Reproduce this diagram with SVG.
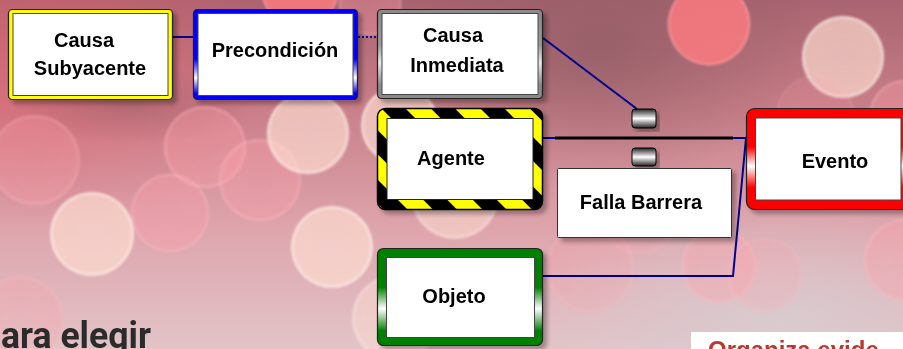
<svg xmlns="http://www.w3.org/2000/svg" width="903" height="349" viewBox="0 0 903 349">
<style>
.t{font-family:"Liberation Sans",Arial,sans-serif;font-weight:bold;font-size:20px;fill:#000;text-anchor:middle}
.in{fill:#fff;stroke:#444;stroke-width:1}
.out{stroke:#222;stroke-width:1.2}
.pk{fill:url(#bkPink)}
.pc{fill:url(#bkPeach)}
.rd{fill:url(#bkRed)}
.cn{fill:none;stroke:#000090;stroke-width:2}
</style>
<defs>
<linearGradient id="bg" x1="0" y1="0" x2="0" y2="1">
<stop offset="0" stop-color="#a86470"/>
<stop offset="0.3" stop-color="#c87e88"/>
<stop offset="0.65" stop-color="#dea4ac"/>
<stop offset="1" stop-color="#e2c4c8"/>
</linearGradient>
<radialGradient id="leftRed" cx="0.5" cy="0.5" r="0.5">
<stop offset="0" stop-color="#e4606e" stop-opacity="0.6"/>
<stop offset="1" stop-color="#e4606e" stop-opacity="0"/>
</radialGradient>
<radialGradient id="mauve" cx="0.5" cy="0.5" r="0.5">
<stop offset="0" stop-color="#8c5a62" stop-opacity="0.7"/>
<stop offset="1" stop-color="#8c5a62" stop-opacity="0"/>
</radialGradient>
<radialGradient id="greyish" cx="0.5" cy="0.5" r="0.5">
<stop offset="0" stop-color="#d8ccd0" stop-opacity="0.9"/>
<stop offset="1" stop-color="#d8ccd0" stop-opacity="0"/>
</radialGradient>
<radialGradient id="bkPink" cx="0.5" cy="0.5" r="0.5">
<stop offset="0" stop-color="#ffa0aa" stop-opacity="0.3"/>
<stop offset="0.88" stop-color="#ffa0aa" stop-opacity="0.35"/>
<stop offset="0.96" stop-color="#ffb8c0" stop-opacity="0.5"/>
<stop offset="1" stop-color="#ffb8c0" stop-opacity="0"/>
</radialGradient>
<radialGradient id="bkPeach" cx="0.5" cy="0.5" r="0.5">
<stop offset="0" stop-color="#ffe4d8" stop-opacity="0.62"/>
<stop offset="0.88" stop-color="#ffe0d2" stop-opacity="0.66"/>
<stop offset="0.95" stop-color="#fff0e8" stop-opacity="0.8"/>
<stop offset="1" stop-color="#fff0e8" stop-opacity="0"/>
</radialGradient>
<radialGradient id="bkRed" cx="0.5" cy="0.5" r="0.5">
<stop offset="0" stop-color="#ff7c80" stop-opacity="0.8"/>
<stop offset="0.9" stop-color="#ff7c80" stop-opacity="0.8"/>
<stop offset="0.97" stop-color="#ff9a9a" stop-opacity="0.8"/>
<stop offset="1" stop-color="#ff9a9a" stop-opacity="0"/>
</radialGradient>
<linearGradient id="gBlue" x1="0" y1="0" x2="0" y2="1">
<stop offset="0" stop-color="#0000ff"/>
<stop offset="0.55" stop-color="#0000ff"/>
<stop offset="0.76" stop-color="#ffffff"/>
<stop offset="0.93" stop-color="#0000ff"/>
<stop offset="1" stop-color="#0000ff"/>
</linearGradient>
<linearGradient id="gGreen" x1="0" y1="0" x2="0" y2="1">
<stop offset="0" stop-color="#008000"/>
<stop offset="0.4" stop-color="#008000"/>
<stop offset="0.62" stop-color="#ffffff"/>
<stop offset="0.85" stop-color="#008000"/>
<stop offset="1" stop-color="#008000"/>
</linearGradient>
<linearGradient id="gRed" x1="0" y1="0" x2="0" y2="1">
<stop offset="0" stop-color="#ff0000"/>
<stop offset="0.38" stop-color="#ff0000"/>
<stop offset="0.57" stop-color="#ffffff"/>
<stop offset="0.78" stop-color="#ff0000"/>
<stop offset="1" stop-color="#ff0000"/>
</linearGradient>
<linearGradient id="gGray" x1="0" y1="0" x2="0" y2="1">
<stop offset="0" stop-color="#8a8a8a"/>
<stop offset="0.4" stop-color="#9a9a9a"/>
<stop offset="0.6" stop-color="#e8e8e8"/>
<stop offset="0.85" stop-color="#8a8a8a"/>
<stop offset="1" stop-color="#8a8a8a"/>
</linearGradient>
<linearGradient id="gPlug" x1="0" y1="0" x2="0" y2="1">
<stop offset="0" stop-color="#222"/>
<stop offset="0.5" stop-color="#ffffff"/>
<stop offset="1" stop-color="#222"/>
</linearGradient>
<pattern id="hazard" patternUnits="userSpaceOnUse" width="35" height="35" patternTransform="rotate(-45)">
<rect x="0" y="0" width="35" height="35" fill="#000"/>
<rect x="0" y="0" width="18" height="35" fill="#ffff00"/>
</pattern>
<filter id="sh" x="-10%" y="-10%" width="125%" height="130%">
<feDropShadow dx="4" dy="4" stdDeviation="2" flood-color="#000" flood-opacity="0.3"/>
</filter>
<filter id="soft" x="-10%" y="-10%" width="120%" height="120%">
<feGaussianBlur stdDeviation="1.2"/>
</filter>
</defs>

<g id="background">
<rect x="0" y="0" width="903" height="349" fill="url(#bg)"/>
<ellipse cx="40" cy="60" rx="260" ry="170" fill="url(#leftRed)"/>
<ellipse cx="600" cy="50" rx="220" ry="130" fill="url(#mauve)"/>
<ellipse cx="130" cy="105" rx="120" ry="40" fill="url(#mauve)" opacity="0.6"/>
<ellipse cx="780" cy="320" rx="260" ry="120" fill="url(#greyish)"/>
<g filter="url(#soft)">
<circle cx="300" cy="-12" r="40" class="rd"/>
<circle cx="370" cy="4" r="32" class="pk"/>
<circle cx="709" cy="24" r="42" class="rd"/>
<circle cx="843" cy="57" r="42" class="pc"/>
<circle cx="905" cy="115" r="36" class="pk"/>
<circle cx="815" cy="115" r="40" class="pk" opacity="0.4"/>
<circle cx="35" cy="160" r="46" class="pk" opacity="0.8"/>
<circle cx="205" cy="147" r="42" class="pk"/>
<circle cx="260" cy="180" r="42" class="pk"/>
<circle cx="170" cy="213" r="40" class="pk"/>
<circle cx="308" cy="133" r="42" class="pc"/>
<circle cx="400" cy="125" r="40" class="pc"/>
<circle cx="92" cy="234" r="43" class="pc"/>
<circle cx="332" cy="247" r="42" class="pc"/>
<circle cx="395" cy="318" r="44" class="pc" opacity="0.7"/>
<circle cx="455" cy="195" r="45" class="pc" opacity="0.8"/>
<circle cx="20" cy="320" r="45" class="pk" opacity="0.7"/>
<circle cx="590" cy="268" r="45" class="pk" opacity="0.6"/>
<circle cx="719" cy="266" r="38" class="pk"/>
<circle cx="765" cy="275" r="38" class="pk" opacity="0.6"/>
<circle cx="905" cy="260" r="42" class="pk"/>
<circle cx="640" cy="215" r="40" class="pk" opacity="0.5"/>
</g>
</g>

<g id="connectors">
<line x1="173" y1="37" x2="193" y2="37" class="cn"/>
<line x1="358" y1="37" x2="377" y2="37" class="cn" stroke-dasharray="2,2"/>
<line x1="543" y1="38" x2="637" y2="109" class="cn"/>
<line x1="543" y1="138" x2="746" y2="138" class="cn" stroke-width="2.5"/>
<line x1="555" y1="138" x2="733" y2="138" stroke="#000" stroke-width="3"/>
<polyline points="746,138 733,276 543,276" class="cn"/>
<rect x="632" y="109" width="24" height="19" rx="3" fill="url(#gPlug)" stroke="#000" stroke-width="1" filter="url(#sh)"/>
<rect x="632" y="148" width="24" height="18" rx="3" fill="url(#gPlug)" stroke="#000" stroke-width="1" filter="url(#sh)"/>
</g>

<g id="causa-subyacente" filter="url(#sh)">
<rect x="8.5" y="9.5" width="164" height="90" rx="4" fill="#ffff00" class="out"/>
<rect x="13" y="13.5" width="155" height="82" class="in"/>
<text class="t" x="84" y="47">Causa</text>
<text class="t" x="90" y="75">Subyacente</text>
</g>

<g id="precondicion" filter="url(#sh)">
<rect x="193.5" y="9.5" width="164" height="90" rx="4" fill="url(#gBlue)" class="out"/>
<rect x="198" y="13.5" width="155" height="82" class="in"/>
<text class="t" x="275" y="57">Precondición</text>
</g>

<g id="causa-inmediata" filter="url(#sh)">
<rect x="377.5" y="9.5" width="165" height="89" rx="4" fill="url(#gGray)" class="out"/>
<rect x="382" y="13.5" width="156" height="81" class="in"/>
<text class="t" x="453" y="42">Causa</text>
<text class="t" x="457" y="72">Inmediata</text>
</g>

<g id="agente" filter="url(#sh)">
<rect x="377.5" y="108.5" width="165" height="101" rx="8" fill="url(#hazard)" stroke="#000" stroke-width="1.5"/>
<rect x="387" y="118.5" width="146" height="81" fill="#fff" stroke="#222" stroke-width="1"/>
<text class="t" x="451" y="165">Agente</text>
</g>

<g id="falla-barrera" filter="url(#sh)">
<rect x="557.5" y="168.5" width="174" height="69" rx="1" fill="#fff" stroke="#333" stroke-width="1"/>
<text class="t" x="641" y="209">Falla Barrera</text>
</g>

<g id="evento" filter="url(#sh)">
<rect x="746.5" y="108.5" width="165" height="101" rx="8" fill="url(#gRed)" class="out"/>
<rect x="755.5" y="118" width="145.5" height="82" class="in"/>
<text class="t" x="835" y="168">Evento</text>
</g>

<g id="objeto" filter="url(#sh)">
<rect x="377.5" y="248.5" width="165" height="97" rx="6" fill="url(#gGreen)" class="out"/>
<rect x="386.5" y="257.5" width="148" height="80" class="in"/>
<text class="t" x="454" y="303">Objeto</text>
</g>

<g id="slide-text">
<text x="1" y="348" font-family="Roboto,'Liberation Sans',sans-serif" font-weight="bold" font-size="36" fill="#2b2b2b" textLength="150" lengthAdjust="spacingAndGlyphs">ara elegir</text>
<rect x="691" y="332" width="212" height="17" fill="#ffffff"/>
<text x="708" y="358" font-family="'Liberation Sans',Arial,sans-serif" font-weight="bold" font-size="24" fill="#b8392e">Organiza evide</text>
</g>
</svg>
